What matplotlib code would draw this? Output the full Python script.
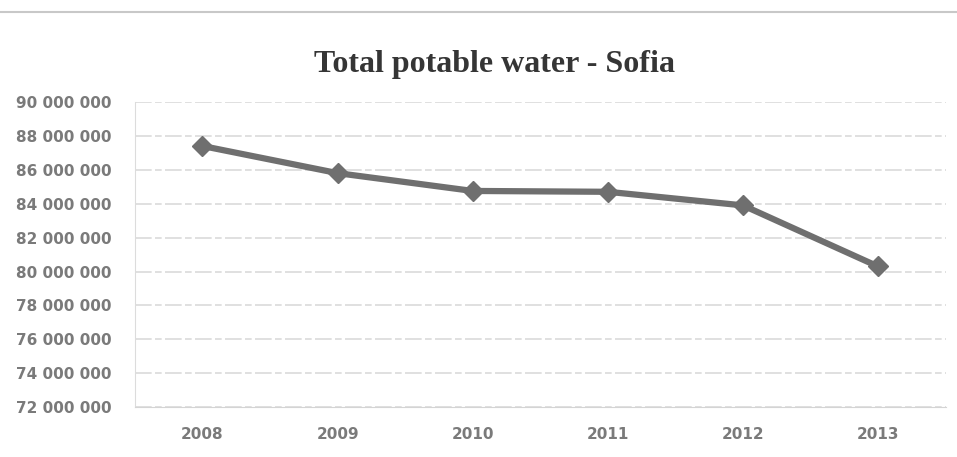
import numpy as np
import matplotlib
matplotlib.use('Agg')
import matplotlib.pyplot as plt
from matplotlib.ticker import FuncFormatter, MultipleLocator

# data
years = ['2008', '2009', '2010', '2011', '2012', '2013']
water = [87400000, 85800000, 84750000, 84700000, 83900000, 80300000]

fig = plt.figure(figsize=(9.57, 4.57), dpi=100)
ax = fig.add_axes([0.141, 0.109, 0.847, 0.668])

x = np.arange(len(years))
ax.plot(x, water, color='#6f6f6f', lw=4.5, marker='D', markersize=10,
        markerfacecolor='#6f6f6f', markeredgecolor='#6f6f6f', zorder=3)

ax.set_xlim(-0.5, len(years) - 0.5)
ax.set_ylim(72000000, 90000000)
ax.yaxis.set_major_locator(MultipleLocator(2000000))
ax.yaxis.set_major_formatter(FuncFormatter(lambda v, p: f'{int(v):,}'.replace(',', ' ')))
ax.set_xticks(x)
ax.set_xticklabels(years)

ax.grid(axis='y', color='#dadada', lw=1.2, linestyle=(0, (10, 2, 4, 2)))
for s in ['top', 'right']:
    ax.spines[s].set_visible(False)
ax.spines['left'].set_color('#dcdcdc')
ax.spines['bottom'].set_color('#d4d4d4')
ax.tick_params(axis='y', length=0, pad=17, labelsize=11, labelcolor='#7a7a7a')
ax.tick_params(axis='x', length=0, pad=14, labelsize=11, labelcolor='#7a7a7a')
for lbl in ax.get_yticklabels() + ax.get_xticklabels():
    lbl.set_fontweight('bold')

fig.text(0.517, 0.858, 'Total potable water - Sofia', ha='center', va='center',
         fontsize=23, fontweight='bold', family='Liberation Serif', color='#353535')

# faint border line along the top of the scan
fig.add_artist(plt.Line2D([0, 1], [0.973, 0.973], color='#c8c8c8', lw=1.5,
                          transform=fig.transFigure))

fig.savefig('out.png', dpi=100)
